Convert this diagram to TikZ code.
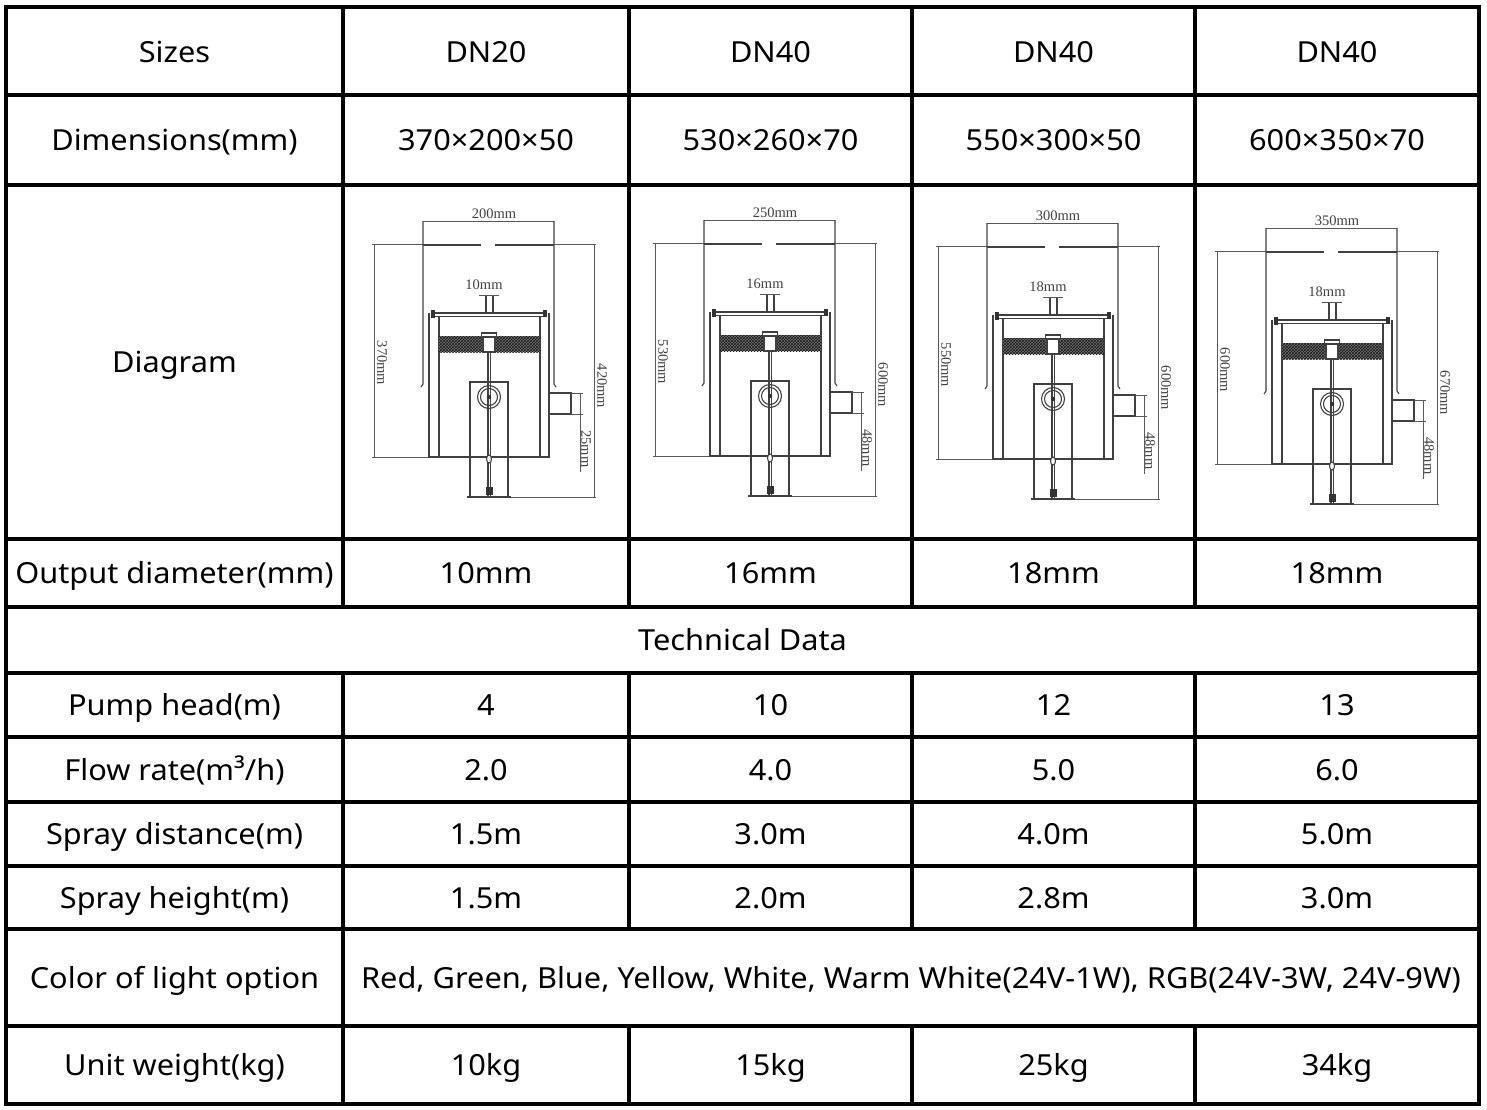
\documentclass[tikz,border=0pt]{standalone}
\usepackage{fontspec}
\setmainfont{Noto Sans}[FakeStretch=1.06]
\newfontfamily\dimfont{Liberation Serif}
\usetikzlibrary{positioning,patterns}

\begin{document}
\begin{tikzpicture}[
  x=1pt, y=-1pt,
  grid/.style={line width=3.5pt, line cap=rect},
  part/.style={draw=black!75, line width=1.1pt},
  dimline/.style={draw=black!65, line width=0.8pt},
  dimtext/.style={font=\dimfont\fontsize{14.5}{15}\selectfont, text=black!75, inner sep=0pt},
  pics/pump/.style n args={5}{code={
    % housing and top size
    \draw[dimline] (80,36) -- (211,36);
    \node[dimtext, anchor=base] (-top) at (151,33) {#1};
    \draw[part] (78,202) -- (80,199) -- (80,36);
    \draw[part] (213,202) -- (211,199) -- (211,36);
    \draw[part] (80,60) -- (138,60);
    \draw[part] (152,60) -- (211,60);
    % outer heights
    \draw[dimline] (29,59) -- (80,59);
    \draw[dimline] (211,59) -- (253,59);
    \draw[dimline] (31,59) -- (31,272);
    \draw[dimline] (29,272) -- (86,272);
    \node[dimtext, rotate=-90] (-left) at (39,178) {#3};
    \draw[dimline] (251,59) -- (251,312);
    \draw[dimline] (168,312) -- (253,312);
    \node[dimtext, rotate=-90] (-right) at (259,201) {#4};
    % inner box and lid
    \draw[part] (86,128) -- (86,272) -- (206,272) -- (206,128);
    \draw[part] (96,131) -- (96,272);
    \draw[part] (197,131) -- (197,272);
    \draw[part] (88,128) -- (203,128);
    \draw[part] (88,131.5) -- (203,131.5);
    \fill[black!80] (87.5,125) rectangle (91.5,133);
    \fill[black!80] (200,124.5) rectangle (204,132);
    % nozzle
    \draw[part] (143,110) -- (143,128);
    \draw[part] (150,110) -- (150,128);
    \draw[dimline] (136,110) -- (156,110);
    \node[dimtext] (-noz) at (141,100) {#2};
    % filter and fitting
    \fill[black!55] (96,151) rectangle (197,167);
    \fill[pattern=crosshatch, pattern color=black!90] (96,151) rectangle (197,167);
    \filldraw[part, fill=white] (140,150) rectangle (152,167);
    \filldraw[part, fill=white] (138.5,148) rectangle (153.5,152);
    % rod and pump
    \draw[part] (145,167) -- (145,312);
    \draw[part] (147.5,167) -- (147.5,312);
    \draw[part] (127,197) rectangle (165,312);
    \draw[part] (146,212) circle (11.5);
    \draw[part] (146,212) circle (8.5);
    \fill[black!80] (146,212) circle (2.2);
    \filldraw[part, fill=white] (146,274) ellipse (2.5 and 4);
    \draw[part, line width=1.5pt] (124,312) -- (168,312);
    \fill[black!80] (143,302) rectangle (149.5,310);
    % outlet
    \draw[part] (206,208) rectangle (228,229);
    \draw[dimline] (237,208) -- (237,287);
    \draw[dimline] (228,208) -- (240,208);
    \draw[dimline] (228,229) -- (240,229);
    \node[dimtext, rotate=-90] (-out) at (243,264) {#5};
  }}
]
  \tikzstyle{cell}=[font=\fontsize{29}{34}\selectfont, anchor=base, inner sep=0pt]
  \useasboundingbox (0,0) rectangle (1487,1109);

  % Grid
  \draw[grid] (6,7) rectangle (1479,1104);
  \draw[grid] (6,95) -- (1479,95);
  \draw[grid] (6,185) -- (1479,185);
  \draw[grid] (6,539) -- (1479,539);
  \draw[grid] (6,607) -- (1479,607);
  \draw[grid] (6,673) -- (1479,673);
  \draw[grid] (6,737) -- (1479,737);
  \draw[grid] (6,802) -- (1479,802);
  \draw[grid] (6,866) -- (1479,866);
  \draw[grid] (6,929) -- (1479,929);
  \draw[grid] (6,1026) -- (1479,1026);
  \draw[grid] (343,7) -- (343,607);
  \draw[grid] (343,673) -- (343,1104);
  \draw[grid] (629,7) -- (629,607);
  \draw[grid] (629,673) -- (629,929);
  \draw[grid] (629,1026) -- (629,1104);
  \draw[grid] (912,7) -- (912,607);
  \draw[grid] (912,673) -- (912,929);
  \draw[grid] (912,1026) -- (912,1104);
  \draw[grid] (1195,7) -- (1195,607);
  \draw[grid] (1195,673) -- (1195,929);
  \draw[grid] (1195,1026) -- (1195,1104);

  % Sizes
  \node[cell] (sz) at (174.5,62) {Sizes};
  \node[cell] (sz1) at (486,62) {DN20};
  \node[cell] (sz2) at (770.5,62) {DN40};
  \node[cell] (sz3) at (1053.5,62) {DN40};
  \node[cell] (sz4) at (1337,62) {DN40};

  % Dimensions
  \node[cell] (dim) at (174.5,150) {Dimensions(mm)};
  \node[cell] (dim1) at (486,150) {370×200×50};
  \node[cell] (dim2) at (770.5,150) {530×260×70};
  \node[cell] (dim3) at (1053.5,150) {550×300×50};
  \node[cell] (dim4) at (1337,150) {600×350×70};

  % Diagram
  \node[cell] (diag) at (174.5,372) {Diagram};
  \pic (d1) at (343,185) {pump={200mm}{10mm}{370mm}{420mm}{25mm}};
  \pic (d2) at (624,184) {pump={250mm}{16mm}{530mm}{600mm}{48mm}};
  \pic (d3) at (907,187) {pump={300mm}{18mm}{550mm}{600mm}{48mm}};
  \pic (d4) at (1186,192) {pump={350mm}{18mm}{600mm}{670mm}{48mm}};

  % Output diameter
  \node[cell] (out) at (174.5,583) {Output diameter(mm)};
  \node[cell] (out1) at (486,583) {10mm};
  \node[cell] (out2) at (770.5,583) {16mm};
  \node[cell] (out3) at (1053.5,583) {18mm};
  \node[cell] (out4) at (1337,583) {18mm};

  \node[cell] (tech) at (742.5,650) {Technical Data};

  % Technical data
  \node[cell] (head) at (174.5,715) {Pump head(m)};
  \node[cell] (head1) at (486,715) {4};
  \node[cell] (head2) at (770.5,715) {10};
  \node[cell] (head3) at (1053.5,715) {12};
  \node[cell] (head4) at (1337,715) {13};

  \node[cell] (flow) at (174.5,780) {Flow rate(m³/h)};
  \node[cell] (flow1) at (486,780) {2.0};
  \node[cell] (flow2) at (770.5,780) {4.0};
  \node[cell] (flow3) at (1053.5,780) {5.0};
  \node[cell] (flow4) at (1337,780) {6.0};

  \node[cell] (dist) at (174.5,844) {Spray distance(m)};
  \node[cell] (dist1) at (486,844) {1.5m};
  \node[cell] (dist2) at (770.5,844) {3.0m};
  \node[cell] (dist3) at (1053.5,844) {4.0m};
  \node[cell] (dist4) at (1337,844) {5.0m};

  \node[cell] (hgt) at (174.5,908) {Spray height(m)};
  \node[cell] (hgt1) at (486,908) {1.5m};
  \node[cell] (hgt2) at (770.5,908) {2.0m};
  \node[cell] (hgt3) at (1053.5,908) {2.8m};
  \node[cell] (hgt4) at (1337,908) {3.0m};

  \node[cell] (light) at (174.5,988) {Color of light option};
  \node[cell] (light1) at (911,988) {Red, Green, Blue, Yellow, White, Warm White(24V-1W), RGB(24V-3W, 24V-9W)};

  \node[cell] (wt) at (174.5,1075) {Unit weight(kg)};
  \node[cell] (wt1) at (486,1075) {10kg};
  \node[cell] (wt2) at (770.5,1075) {15kg};
  \node[cell] (wt3) at (1053.5,1075) {25kg};
  \node[cell] (wt4) at (1337,1075) {34kg};
\end{tikzpicture}
\end{document}
